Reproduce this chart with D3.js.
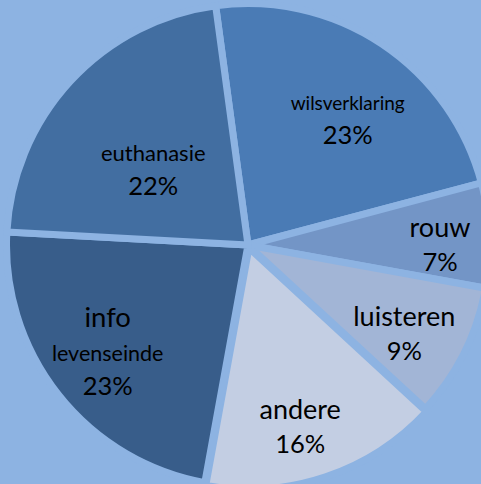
<!DOCTYPE html>
<html>
<head>
<meta charset="utf-8">
<script src="https://cdn.jsdelivr.net/npm/d3@7"></script>
<style>
    html, body { margin: 0; padding: 0; background: #8db3e2; }
    #chart { width: 481px; height: 484px; overflow: hidden; }
    .label { font-family: Lato, "Open Sans", sans-serif; fill: #000; }
</style>
</head>
<body>
<div id="chart"></div>
<script>
    "use strict";

    // chart data, clockwise from the top
    const categories = ["wilsverklaring", "rouw", "luisteren", "andere", "info levenseinde", "euthanasie"];
    const shares = [23, 7, 9, 16, 23, 22];
    // how each category name is broken into lines inside its slice
    const nameLines = [["wilsverklaring"], ["rouw"], ["luisteren"], ["andere"], ["info", "levenseinde"], ["euthanasie"]];

    // styling and layout
    const colors = ["#4a7bb5", "#7395c6", "#a2b5d6", "#c3cee3", "#385d8a", "#426ea1"];
    const nameSizes = [[19], [27], [27], [27], [27.5, 21.5], [22]];
    const percentSize = 25.5;
    const labelRadius = [163, 192, 179, 187, 175, 123];
    const labelTurn = [4, 1.7, 2.7, 2.3, 1.6, -3.1];
    const explode = [0, 0, 0, 3, 0, 0];

    let width = 481;
    let height = 484;
    let center = { x: 248, y: 245 };
    let gap = 7;
    let radius = 238 + gap / 2;
    let startAngle = -7.7 * Math.PI / 180;

    let slices = categories.map((c, i) => ({ id: i, name: c, value: shares[i] }));

    let pie = d3.pie()
        .value(d => d.value)
        .sort(null)
        .startAngle(startAngle)
        .endAngle(startAngle + 2 * Math.PI);

    let arc = d3.arc()
        .innerRadius(0)
        .outerRadius(radius);

    let svg = d3.select("#chart").append("svg")
        .attr("width", width)
        .attr("height", height)
        .append("g")
        .attr("transform", `translate(${center.x},${center.y})`);

    let arcs = pie(slices);

    // offset along the middle of the slice
    function shift(d, r) {
        let mid = (d.startAngle + d.endAngle) / 2;
        return [r * Math.sin(mid), -r * Math.cos(mid)];
    }

    // draw slices, the background coloured stroke makes the gaps
    svg.selectAll(".slice")
        .data(arcs)
        .enter()
        .append("path")
        .attr("class", "slice")
        .attr("d", arc)
        .attr("transform", d => {
            let [x, y] = shift(d, explode[d.data.id]);
            return `translate(${x},${y})`;
        })
        .style("fill", d => colors[d.data.id])
        .style("stroke", "#8db3e2")
        .style("stroke-width", gap)
        .style("stroke-linejoin", "miter");

    // draw labels: name lines then percentage
    let labels = svg.selectAll(".label")
        .data(arcs)
        .enter()
        .append("text")
        .attr("class", "label")
        .attr("text-anchor", "middle")
        .attr("transform", d => {
            let i = d.data.id;
            let turn = labelTurn[i] * Math.PI / 180;
            let r = labelRadius[i];
            let labelArc = d3.arc()
                .innerRadius(r)
                .outerRadius(r)
                .startAngle(d.startAngle + turn)
                .endAngle(d.endAngle + turn);
            let [x, y] = labelArc.centroid();
            return `translate(${x},${y})`;
        });

    labels.each(function (d) {
        let i = d.data.id;
        let lines = nameLines[i].map((t, k) => ({ text: t, size: nameSizes[i][k] }));
        lines.push({ text: `${d.data.value}%`, size: percentSize });
        let step = 34;
        let first = -6 - (lines.length - 2) * step / 2;
        let text = d3.select(this);
        lines.forEach((line, k) => {
            text.append("tspan")
                .attr("x", 0)
                .attr("y", first + k * step)
                .style("font-size", `${line.size}px`)
                .text(line.text);
        });
    });
</script>
</body>
</html>
